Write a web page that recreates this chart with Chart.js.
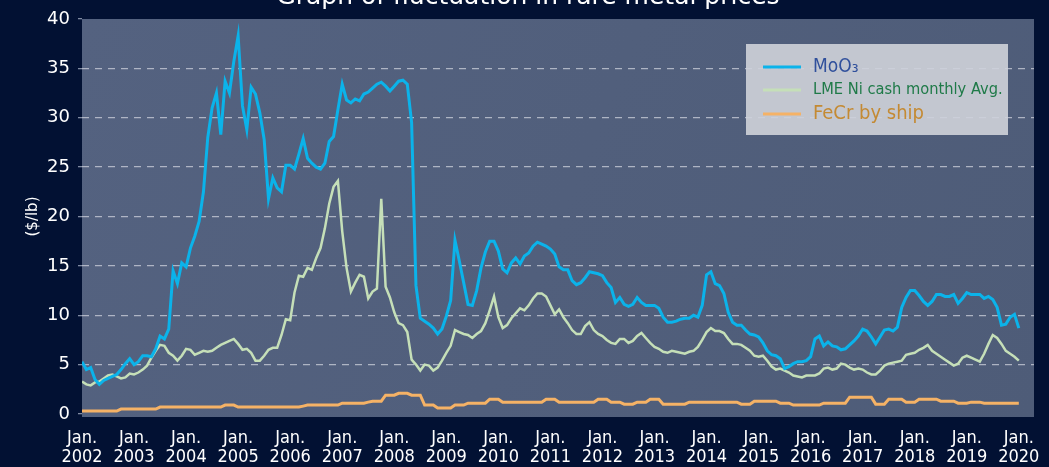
<!DOCTYPE html>
<html>
<head>
<meta charset="utf-8">
<script src="https://cdn.jsdelivr.net/npm/chart.js@4.4.1/dist/chart.umd.min.js"></script>
<style>
  html, body { margin: 0; padding: 0; background: #021133; }
  #wrap { width: 1049px; height: 467px; }
</style>
</head>
<body>
<div id="wrap"><canvas id="priceChart" width="1049" height="467"></canvas></div>
<script>
// Tick labels for the x axis (one per January)
const years = ["2002", "2003", "2004", "2005", "2006", "2007", "2008", "2009", "2010", "2011",
  "2012", "2013", "2014", "2015", "2016", "2017", "2018", "2019", "2020"];

// Monthly prices from Jan. 2002 to Jan. 2020 ($/lb)
const moo3 = [
  5.3, 4.5, 4.7, 3.5, 3.0, 3.4, 3.6, 3.8, 4.0, 4.5, 5.1, 5.6,
  5.0, 5.3, 5.9, 5.9, 5.8, 6.6, 7.9, 7.6, 8.6, 14.5, 13.2, 15.3,
  14.9, 16.8, 18.0, 19.5, 22.5, 28.0, 31.0, 32.5, 28.3, 33.7, 32.5, 35.7,
  38.3, 31.2, 28.8, 33.1, 32.4, 30.5, 27.8, 21.8, 23.9, 22.9, 22.5, 25.2,
  25.2, 24.8, 26.3, 27.9, 25.9, 25.4, 25.0, 24.8, 25.4, 27.6, 28.1, 30.8,
  33.4, 31.8, 31.5, 31.9, 31.7, 32.4, 32.6, 33.0, 33.4, 33.6, 33.2, 32.7,
  33.2, 33.7, 33.8, 33.4, 29.5, 13.0, 9.7, 9.4, 9.1, 8.7, 8.1, 8.6,
  9.9, 11.5, 17.6, 15.5, 13.3, 11.1, 11.0, 12.5, 14.8, 16.4, 17.5, 17.5,
  16.5, 14.7, 14.3, 15.3, 15.8, 15.2, 16.0, 16.3, 17.0, 17.4, 17.2, 17.0,
  16.7, 16.2, 14.9, 14.6, 14.6, 13.5, 13.1, 13.3, 13.8, 14.4, 14.3, 14.2,
  14.0, 13.3, 12.8, 11.3, 11.8, 11.1, 10.9, 11.1, 11.8, 11.3, 11.0, 11.0,
  11.0, 10.7, 9.8, 9.3, 9.3, 9.4, 9.6, 9.7, 9.7, 10.0, 9.8, 11.0,
  14.1, 14.4, 13.2, 13.0, 12.2, 10.3, 9.3, 9.0, 9.0, 8.5, 8.1, 8.0,
  7.8, 7.2, 6.4, 6.0, 5.9, 5.6, 4.6, 4.8, 5.1, 5.3, 5.3, 5.4,
  5.8, 7.6, 7.9, 6.9, 7.3, 6.9, 6.8, 6.5, 6.6, 7.0, 7.4, 7.9,
  8.6, 8.4, 7.8, 7.1, 7.8, 8.5, 8.6, 8.4, 8.8, 10.8, 11.8, 12.5,
  12.5, 12.0, 11.4, 11.0, 11.4, 12.1, 12.1, 11.9, 11.9, 12.1, 11.2, 11.7,
  12.3, 12.1, 12.1, 12.1, 11.7, 11.9, 11.6, 10.8, 9.0, 9.1, 9.8, 10.1,
  8.7
];

const niAvg = [
  3.3, 3.0, 2.9, 3.2, 3.3, 3.6, 3.9, 4.0, 3.8, 3.6, 3.7, 4.1,
  4.0, 4.2, 4.5, 4.9, 5.7, 6.4, 7.0, 6.9, 6.2, 5.9, 5.4, 5.9,
  6.6, 6.5, 6.0, 6.2, 6.4, 6.3, 6.4, 6.7, 7.0, 7.2, 7.4, 7.6,
  7.1, 6.5, 6.6, 6.2, 5.4, 5.4, 5.9, 6.5, 6.7, 6.7, 8.0, 9.6,
  9.5, 12.3, 14.0, 13.9, 14.8, 14.6, 15.8, 16.8, 18.8, 21.3, 23.0, 23.6,
  18.5, 14.8, 12.4, 13.3, 14.1, 13.9, 11.7, 12.4, 12.7, 21.8, 12.9, 11.8,
  10.3, 9.2, 9.0, 8.3, 5.5, 5.0, 4.4, 5.0, 4.9, 4.4, 4.7, 5.4,
  6.2, 6.9, 8.5, 8.3, 8.1, 8.0, 7.7, 8.1, 8.4, 9.2, 10.5, 11.9,
  9.8, 8.7, 9.0, 9.7, 10.2, 10.7, 10.5, 11.0, 11.7, 12.2, 12.2, 11.9,
  11.0, 10.1, 10.6, 9.8, 9.2, 8.5, 8.1, 8.1, 8.9, 9.3, 8.5, 8.1,
  7.9, 7.5, 7.2, 7.1, 7.6, 7.6, 7.2, 7.4, 7.9, 8.2, 7.7, 7.2,
  6.8, 6.6, 6.3, 6.2, 6.4, 6.3, 6.2, 6.1, 6.3, 6.4, 6.8, 7.5,
  8.3, 8.7, 8.4, 8.4, 8.2, 7.6, 7.1, 7.1, 7.0, 6.7, 6.4, 5.9,
  5.8, 5.9, 5.4, 4.8, 4.5, 4.6, 4.4, 4.2, 3.9, 3.8, 3.7, 3.9,
  3.9, 3.9, 4.1, 4.6, 4.7, 4.5, 4.6, 5.1, 5.0, 4.7, 4.5, 4.6,
  4.5, 4.2, 4.0, 4.0, 4.4, 4.9, 5.1, 5.2, 5.3, 5.4, 6.0, 6.1,
  6.2, 6.5, 6.7, 7.0, 6.4, 6.1, 5.8, 5.5, 5.2, 4.9, 5.1, 5.7,
  5.9, 5.7, 5.5, 5.3, 6.1, 7.1, 8.0, 7.7, 7.1, 6.4, 6.1, 5.8,
  5.4
];

const fecr = [
  0.3, 0.3, 0.3, 0.3, 0.3, 0.3, 0.3, 0.3, 0.3, 0.5, 0.5, 0.5,
  0.5, 0.5, 0.5, 0.5, 0.5, 0.5, 0.7, 0.7, 0.7, 0.7, 0.7, 0.7,
  0.7, 0.7, 0.7, 0.7, 0.7, 0.7, 0.7, 0.7, 0.7, 0.9, 0.9, 0.9,
  0.7, 0.7, 0.7, 0.7, 0.7, 0.7, 0.7, 0.7, 0.7, 0.7, 0.7, 0.7,
  0.7, 0.7, 0.7, 0.8, 0.9, 0.9, 0.9, 0.9, 0.9, 0.9, 0.9, 0.9,
  1.1, 1.1, 1.1, 1.1, 1.1, 1.1, 1.2, 1.3, 1.3, 1.3, 1.9, 1.9,
  1.9, 2.1, 2.1, 2.1, 1.9, 1.9, 1.9, 0.9, 0.9, 0.9, 0.6, 0.6,
  0.6, 0.6, 0.9, 0.9, 0.9, 1.1, 1.1, 1.1, 1.1, 1.1, 1.5, 1.5,
  1.5, 1.2, 1.2, 1.2, 1.2, 1.2, 1.2, 1.2, 1.2, 1.2, 1.2, 1.5,
  1.5, 1.5, 1.2, 1.2, 1.2, 1.2, 1.2, 1.2, 1.2, 1.2, 1.2, 1.5,
  1.5, 1.5, 1.2, 1.2, 1.2, 1.0, 1.0, 1.0, 1.2, 1.2, 1.2, 1.5,
  1.5, 1.5, 1.0, 1.0, 1.0, 1.0, 1.0, 1.0, 1.2, 1.2, 1.2, 1.2,
  1.2, 1.2, 1.2, 1.2, 1.2, 1.2, 1.2, 1.2, 1.0, 1.0, 1.0, 1.3,
  1.3, 1.3, 1.3, 1.3, 1.3, 1.1, 1.1, 1.1, 0.9, 0.9, 0.9, 0.9,
  0.9, 0.9, 0.9, 1.1, 1.1, 1.1, 1.1, 1.1, 1.1, 1.7, 1.7, 1.7,
  1.7, 1.7, 1.7, 1.0, 1.0, 1.0, 1.5, 1.5, 1.5, 1.5, 1.2, 1.2,
  1.2, 1.5, 1.5, 1.5, 1.5, 1.5, 1.3, 1.3, 1.3, 1.3, 1.1, 1.1,
  1.1, 1.2, 1.2, 1.2, 1.1, 1.1, 1.1, 1.1, 1.1, 1.1, 1.1, 1.1,
  1.1
];

const seriesNames = ["MoO\u2083", "LME Ni cash monthly Avg.", "FeCr by ship"];
const lineColors = ["#0bb3ea", "#c5dfb8", "#f5b266"];
const legendTextColors = ["#30509c", "#1f7a48", "#c48a33"];

const FONT = "'DejaVu Sans Condensed', 'DejaVu Sans', sans-serif";

function toPoints(arr) {
  return arr.map((v, i) => ({ x: i, y: v }));
}

// Plot background, legend box and the (partly cut) title
const decorations = {
  id: "decorations",
  beforeDraw(chart) {
    const { ctx, chartArea } = chart;
    ctx.save();
    ctx.fillStyle = "#021133";
    ctx.fillRect(0, 0, chart.width, chart.height);
    const grad = ctx.createLinearGradient(chartArea.left, chartArea.top, chartArea.right, chartArea.bottom);
    grad.addColorStop(0, "#546280");
    grad.addColorStop(1, "#4e5c78");
    ctx.fillStyle = grad;
    ctx.fillRect(chartArea.left, chartArea.top, chartArea.right - chartArea.left, chartArea.bottom - chartArea.top + 3);
    // legend box (sits under the grid lines)
    ctx.fillStyle = "#c3c7d0";
    ctx.fillRect(746, 44, 262, 91);
    ctx.restore();
  },
  afterDraw(chart) {
    const { ctx } = chart;
    ctx.save();
    ctx.fillStyle = "#ffffff";
    ctx.font = "25px 'DejaVu Sans', sans-serif";
    ctx.textAlign = "center";
    ctx.textBaseline = "alphabetic";
    ctx.fillText("Graph of fluctuation in rare metal prices", 528, 4);

    const rows = [67, 90, 114];
    const sizes = [19, 16.3, 20];
    rows.forEach((y, k) => {
      ctx.strokeStyle = lineColors[k];
      ctx.lineWidth = 3;
      ctx.beginPath();
      ctx.moveTo(763, y);
      ctx.lineTo(801, y);
      ctx.stroke();
      ctx.fillStyle = legendTextColors[k];
      ctx.font = sizes[k] + "px " + FONT;
      ctx.textAlign = "left";
      ctx.textBaseline = "middle";
      ctx.fillText(seriesNames[k], 813, y);
    });
    ctx.restore();
  },
};

const ctx = document.getElementById("priceChart").getContext("2d");
new Chart(ctx, {
  type: "line",
  data: {
    datasets: [
      { label: seriesNames[0], data: toPoints(moo3), borderColor: lineColors[0], borderWidth: 3 },
      { label: seriesNames[1], data: toPoints(niAvg), borderColor: lineColors[1], borderWidth: 2.5 },
      { label: seriesNames[2], data: toPoints(fecr), borderColor: lineColors[2], borderWidth: 3 },
    ],
  },
  options: {
    responsive: false,
    animation: false,
    elements: { point: { radius: 0 }, line: { tension: 0 } },
    layout: { padding: { top: 19, right: 15, left: 0, bottom: 0 } },
    plugins: { legend: { display: false }, tooltip: { enabled: false } },
    scales: {
      x: {
        type: "linear",
        min: 0,
        max: 219.5,
        afterFit(scale) { scale.height = 53; },
        grid: { display: false },
        border: { display: false },
        ticks: {
          stepSize: 12,
          includeBounds: false,
          autoSkip: false,
          maxRotation: 0,
          color: "#ffffff",
          padding: 6,
          font: { family: FONT, size: 18, lineHeight: 1.1 },
          callback: (value) => (value % 12 === 0 ? ["Jan.", years[value / 12]] : null),
        },
      },
      y: {
        min: 0,
        max: 40,
        afterFit(scale) { scale.width = 82; },
        border: { display: false, dash: [7, 6] },
        grid: {
          color: (c) => (c.tick && (c.tick.value === 0 || c.tick.value === 40) ? "rgba(0,0,0,0)" : "rgba(205,210,220,0.75)"),
          lineWidth: 1.3,
          tickLength: 4,
          tickColor: "rgba(160,170,190,0.8)",
        },
        ticks: {
          stepSize: 5,
          color: "#ffffff",
          padding: 8,
          font: { family: "'DejaVu Sans', sans-serif", size: 18 },
        },
        title: {
          display: true,
          text: "($/lb)",
          color: "#ffffff",
          font: { family: "'DejaVu Sans', sans-serif", size: 15 },
          padding: { top: 24, bottom: 0 },
        },
      },
    },
  },
  plugins: [decorations],
});
</script>
</body>
</html>
